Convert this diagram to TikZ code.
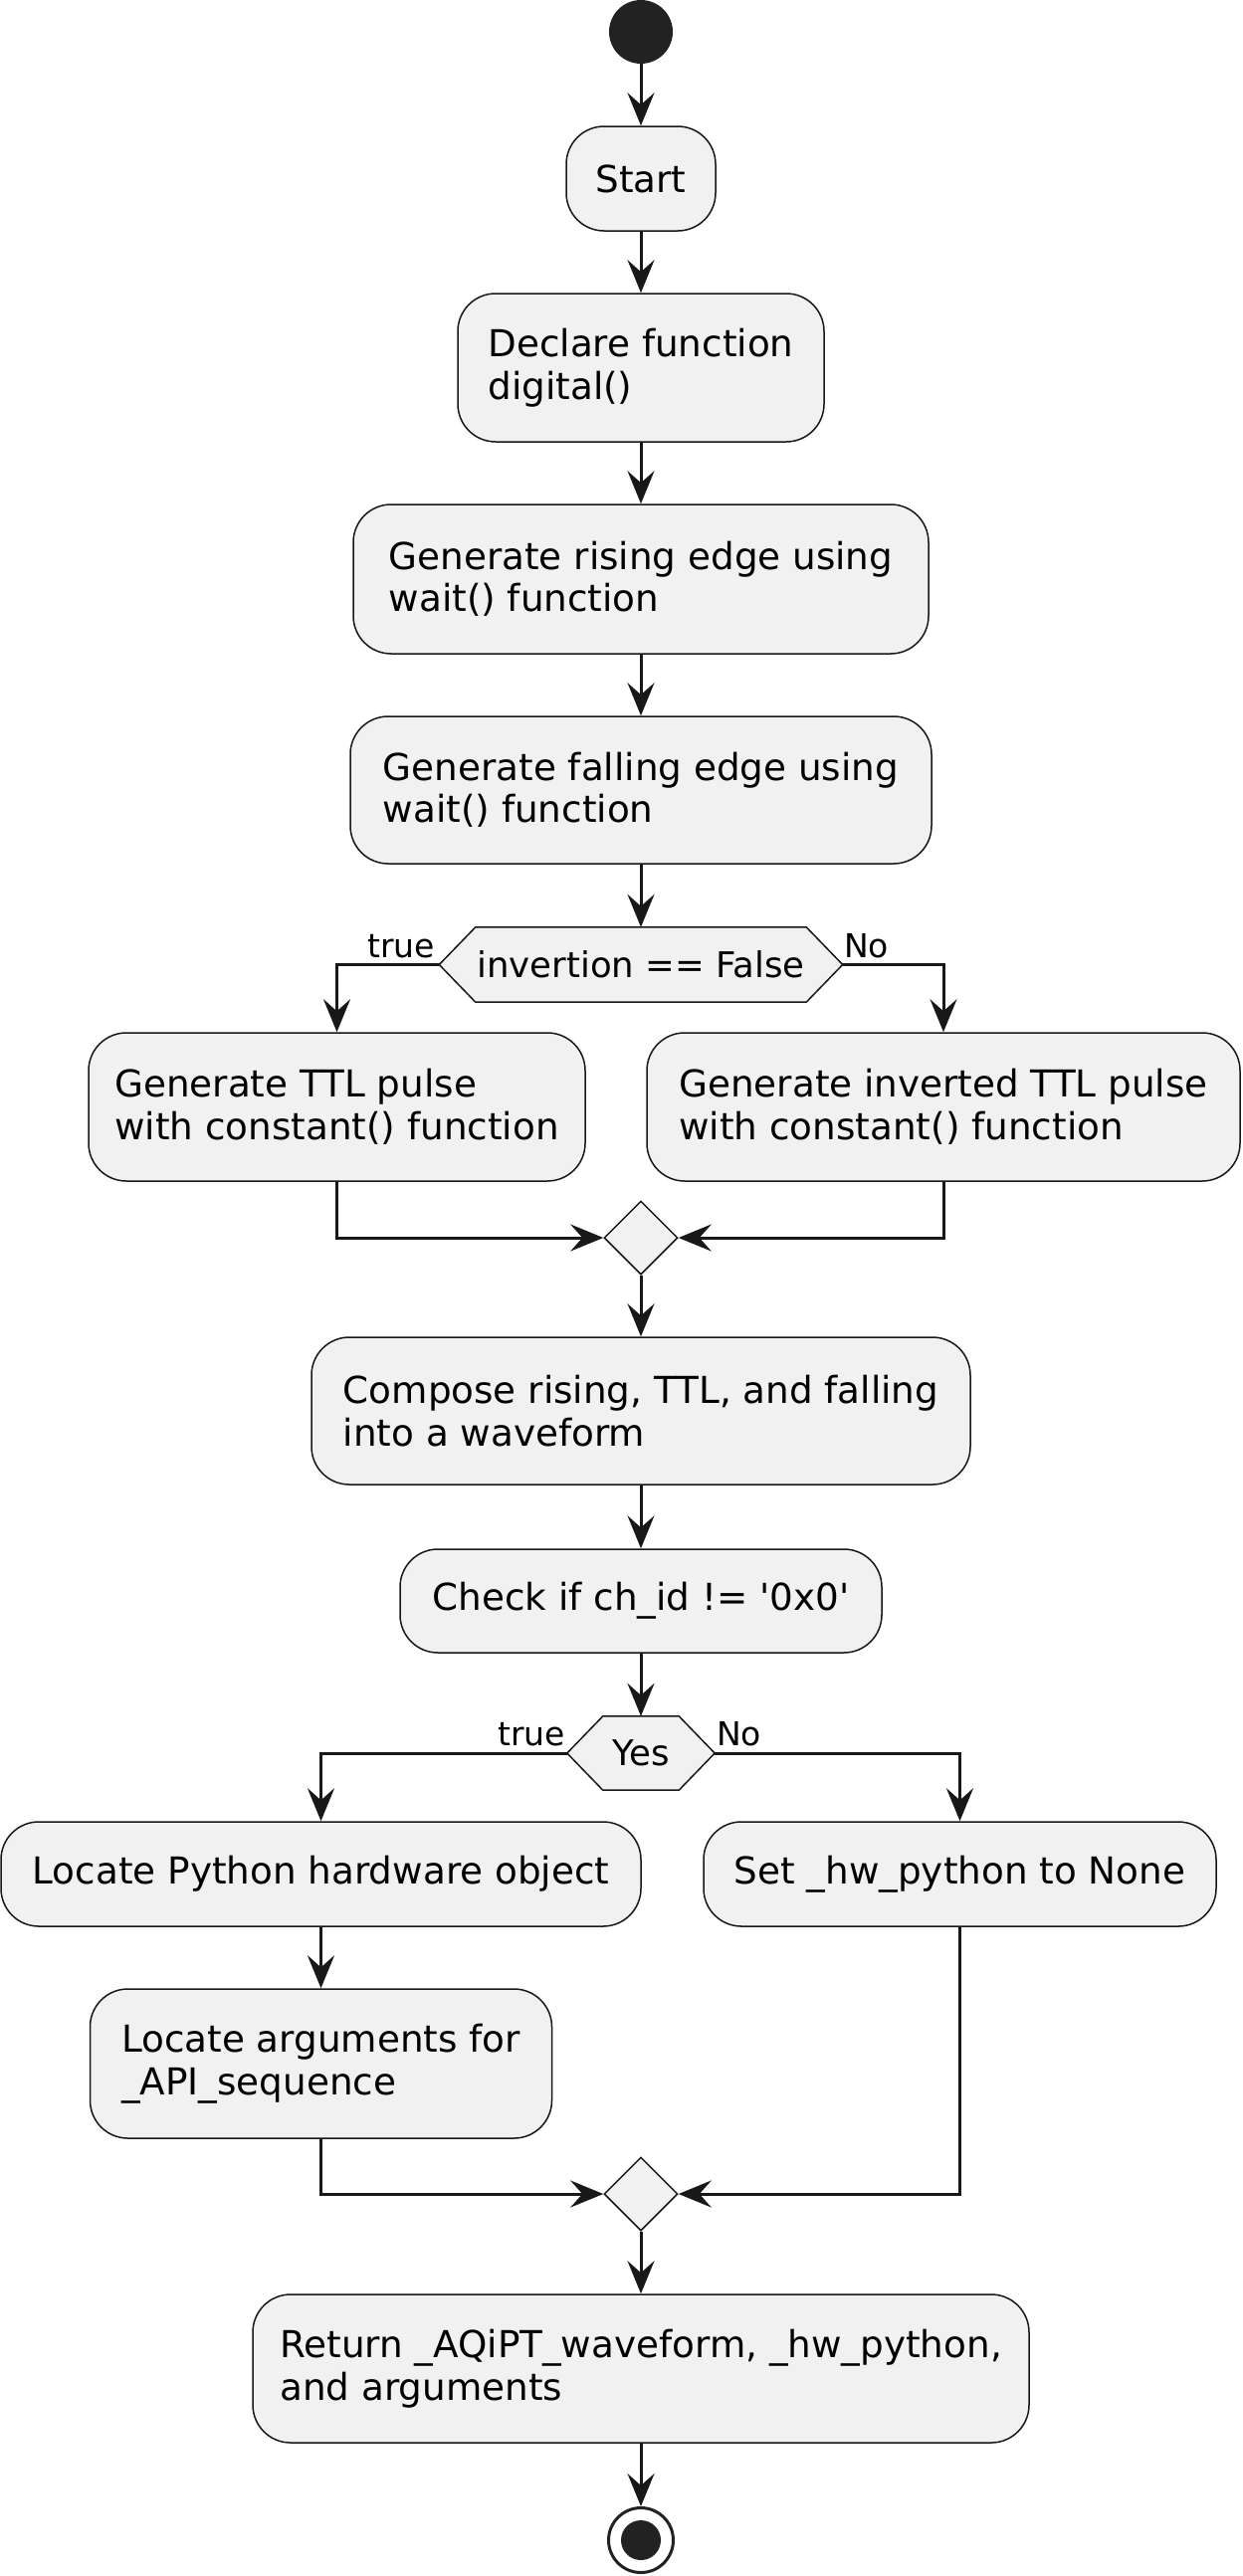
\documentclass[tikz,border=0pt]{standalone}
\usepackage{fontspec}
\setmainfont{DejaVu Sans}
\usetikzlibrary{shapes.geometric,arrows.meta,calc}
\definecolor{cline}{HTML}{181818}
\definecolor{cfill}{HTML}{F1F1F1}
\definecolor{cdot}{HTML}{222222}
\tikzset{
  actbox/.style={draw=cline, line width=1.5pt, fill=cfill, rounded corners=38pt,
    align=left, inner sep=0pt, font=\fontsize{37.3}{42.5}\selectfont},
  hexnode/.style={draw=none, inner sep=0pt, font=\fontsize{35.5}{40}\selectfont},
  hexline/.style={draw=cline, line width=1.5pt, fill=cfill},
  mergediam/.style={diamond, draw=cline, line width=1.5pt, fill=cfill, inner sep=0pt,
    minimum width=74pt, minimum height=74pt},
  lbl/.style={inner sep=0pt, font=\fontsize{33}{38}\selectfont},
  arr/.style={draw=cline, line width=3pt, -{Stealth[length=33pt,width=27pt,inset=12pt]}},
}
\begin{document}
\begin{tikzpicture}[x=1pt,y=-1pt]
\fill[white] (0,0) rectangle (1248,2589);
\useasboundingbox (0,0) rectangle (1248,2589);

\node[circle, fill=cdot, minimum size=64pt, inner sep=0pt] (init) at (644,32) {};
\node[actbox, minimum width=150pt, minimum height=105pt] (startb) at (644,179.5) {Start};
\node[actbox, minimum width=368pt, minimum height=149pt] (decl) at (644,369.5) {Declare function\\digital()};
\node[actbox, minimum width=578pt, minimum height=150pt] (rise) at (644,582) {Generate rising edge using\\wait() function};
\node[actbox, minimum width=584pt, minimum height=148pt] (fall) at (644,794) {Generate falling edge using\\wait() function};

% decision 1
\node[hexnode, minimum width=405pt, minimum height=75pt] (hA) at (644,969.5) {};
\draw[hexline] (hA.west) -- ([xshift=36.5pt]hA.north west) -- ([xshift=-36.5pt]hA.north east) -- (hA.east)
  -- ([xshift=-36.5pt]hA.south east) -- ([xshift=36.5pt]hA.south west) -- cycle;
\node[hexnode] (hAt) at (hA.center) {invertion == False};
\node[lbl, anchor=base east] (lt1) at (437,962) {true};
\node[lbl, anchor=base west] (ln1) at (848,962) {No};

\node[actbox, minimum width=499pt, minimum height=149pt] (ttl) at (338.5,1112.5) {Generate TTL pulse\\with constant() function};
\node[actbox, minimum width=596pt, minimum height=149pt] (inv) at (948,1112.5) {Generate inverted TTL pulse\\with constant() function};
\node[mergediam] (m1) at (644,1244) {};

\node[actbox, minimum width=662pt, minimum height=148pt] (comp) at (644,1418) {Compose rising, TTL, and falling\\into a waveform};
\node[actbox, minimum width=484pt, minimum height=104pt] (chk) at (644,1609) {Check if ch\_id != \textquotesingle0x0\textquotesingle};

% decision 2
\node[hexnode, minimum width=148pt, minimum height=74pt] (hB) at (644,1762) {};
\draw[hexline] (hB.west) -- ([xshift=36pt]hB.north west) -- ([xshift=-36pt]hB.north east) -- (hB.east)
  -- ([xshift=-36pt]hB.south east) -- ([xshift=36pt]hB.south west) -- cycle;
\node[hexnode] (hBt) at (hB.center) {Yes};
\node[lbl, anchor=base east] (lt2) at (568,1754) {true};
\node[lbl, anchor=base west] (ln2) at (720,1754) {No};

\node[actbox, minimum width=643pt, minimum height=105pt] (pyobj) at (322.5,1883.5) {Locate Python hardware object};
\node[actbox, minimum width=515pt, minimum height=105pt] (sethw) at (964.5,1883.5) {Set \_hw\_python to None};
\node[actbox, minimum width=464pt, minimum height=150pt] (args) at (322.5,2074) {Locate arguments for\\\_API\_sequence};
\node[mergediam] (m2) at (644,2205) {};

\node[actbox, minimum width=780pt, minimum height=149pt] (ret) at (644,2380.5) {Return \_AQiPT\_waveform, \_hw\_python,\\and arguments};

\node[circle, draw=cdot, line width=3pt, fill=white, minimum size=65pt, inner sep=0pt] (fin) at (644,2553) {};
\node[circle, fill=cdot, minimum size=40pt, inner sep=0pt] (finin) at (644,2553) {};

% connectors
\draw[arr] (init.south) -- (startb.north);
\draw[arr] (startb.south) -- (decl.north);
\draw[arr] (decl.south) -- (rise.north);
\draw[arr] (rise.south) -- (fall.north);
\draw[arr] (fall.south) -- (hA.north);
\draw[arr] (hA.west) -| (ttl.north);
\draw[arr] (hA.east) -| (inv.north);
\draw[arr] (ttl.south) |- (m1.west);
\draw[arr] (inv.south) |- (m1.east);
\draw[arr] (m1.south) -- (comp.north);
\draw[arr] (comp.south) -- (chk.north);
\draw[arr] (chk.south) -- (hB.north);
\draw[arr] (hB.west) -| (pyobj.north);
\draw[arr] (hB.east) -| (sethw.north);
\draw[arr] (pyobj.south) -- (args.north);
\draw[arr] (args.south) |- (m2.west);
\draw[arr] (sethw.south) |- (m2.east);
\draw[arr] (m2.south) -- (ret.north);
\draw[arr] (ret.south) -- (fin.north);
\end{tikzpicture}
\end{document}
